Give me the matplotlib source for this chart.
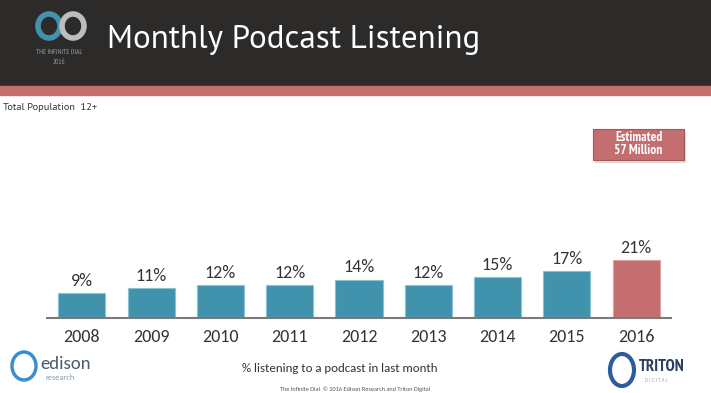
import matplotlib
matplotlib.use("Agg")
import matplotlib.pyplot as plt
from matplotlib.patches import Rectangle, FancyBboxPatch, Ellipse

# data
years = ["2008", "2009", "2010", "2011", "2012", "2013", "2014", "2015", "2016"]
share = [9, 11, 12, 12, 14, 12, 15, 17, 21]
value_labels = ["9%", "11%", "12%", "12%", "14%", "12%", "15%", "17%", "21%"]

BLUE = "#4193ad"
PINK = "#c46e6f"
DARK = "#2d2b2a"
TXT = "#333333"
FONT = ["Carlito", "DejaVu Sans"]
HEAD = ["PT Sans", "DejaVu Sans"]
NARROW = ["PT Sans Narrow", "DejaVu Sans"]

plt.rcParams["font.family"] = FONT

W, H = 711, 393
fig = plt.figure(figsize=(W / 100, H / 100), dpi=100)
fig.patch.set_facecolor("white")

def fx(px):
    return px / W

def fy(py):
    return 1 - py / H

# header band + stripe
fig.patches.append(Rectangle((0, fy(86)), 1, 86 / H, transform=fig.transFigure,
                             color=DARK, zorder=0))
fig.patches.append(Rectangle((0, fy(94.5)), 1, 8.5 / H, transform=fig.transFigure,
                             color=PINK, zorder=0))

fig.text(fx(107), fy(40), "Monthly Podcast Listening", color="white",
         fontsize=23.8, va="center", ha="left", family=HEAD)

# infinite dial logo (rough)
fig.patches.append(Ellipse((fx(49), fy(26)), 22 / W, 24 / H, transform=fig.transFigure,
                           fill=False, ec=BLUE, lw=4, zorder=2))
fig.patches.append(Ellipse((fx(73), fy(26)), 22 / W, 24 / H, transform=fig.transFigure,
                           fill=False, ec="#bdbdbd", lw=4, zorder=2))
fig.text(fx(59), fy(53), "THE INFINITE DIAL", color="#9a9a9a", fontsize=5, ha="center",
         va="center", family=NARROW)
fig.text(fx(59), fy(62), "2016", color="#9a9a9a", fontsize=5, ha="center", va="center",
         family=NARROW)

fig.text(fx(3), fy(108), "Total Population  12+", color=TXT, fontsize=7.5, va="center",
         ha="left", family=HEAD)

# bar chart
ymax = 30
px_per_pct = 2.76
base = 318.3
ax = fig.add_axes([fx(47.3), fy(base), fx(670.7 - 47.3), ymax * px_per_pct / H])
colors = [BLUE] * (len(years) - 1) + [PINK]
edges = ["#8cc3d4"] * (len(years) - 1) + ["#dca0a0"]
x = list(range(len(years)))
bars = ax.bar(x, share, width=0.68, color=colors, edgecolor=edges, linewidth=0.8, zorder=2)
ax.set_xlim(-0.5, len(years) - 0.5)
ax.set_ylim(0, ymax)
for b, lab in zip(bars, value_labels):
    ax.annotate(lab, (b.get_x() + b.get_width() / 2, b.get_height()),
                xytext=(0, 3), textcoords="offset points", ha="center", va="bottom",
                fontsize=13, color=TXT, annotation_clip=False)
ax.set_xticks(x)
ax.set_xticklabels(years, fontsize=13, color=TXT)
ax.tick_params(axis="x", length=0, pad=8)
ax.set_yticks([])
for s in ["top", "right", "left"]:
    ax.spines[s].set_visible(False)
ax.spines["bottom"].set_color("#7a7a7a")
ax.spines["bottom"].set_linewidth(1.5)
ax.patch.set_alpha(0)

# estimate callout
shadow = FancyBboxPatch((fx(595), fy(163)), fx(91), 31 / H, boxstyle="square,pad=0",
                        transform=fig.transFigure, fc="#dcdcdc", ec="none", zorder=1)
fig.patches.append(shadow)
box = FancyBboxPatch((fx(593), fy(160)), fx(91), 31 / H, boxstyle="square,pad=0",
                     transform=fig.transFigure, fc=PINK, ec="#a85556", lw=0.8, zorder=2)
fig.patches.append(box)
fig.text(fx(638.5), fy(144.5), "Estimated\n57 Million", color="white", fontsize=9.5,
         fontweight="bold", ha="center", va="center", linespacing=1.0, zorder=3,
         family=NARROW)

# footer
fig.text(fx(340), fy(369), "% listening to a podcast in last month", color=TXT,
         fontsize=9.3, ha="center", va="center")
fig.text(fx(355), fy(389), "The Infinite Dial  \u00a9 2016 Edison Research and Triton Digital",
         color="#555555", fontsize=4.5, ha="center", va="center")

# edison logo (rough)
fig.patches.append(Ellipse((fx(24), fy(366)), 24 / W, 28 / H, transform=fig.transFigure,
                           fill=False, ec="#3b8fd0", lw=2.5, zorder=2))
fig.text(fx(40), fy(364), "edison", color="#4a5a6a", fontsize=13.5, ha="left", va="center")
fig.text(fx(45), fy(378), "research", color="#8a9aa8", fontsize=6, ha="left", va="center")

# triton logo (rough)
fig.patches.append(Ellipse((fx(622), fy(370)), 24 / W, 32 / H, transform=fig.transFigure,
                           fill=False, ec="#2a5d9a", lw=3, zorder=2))
fig.text(fx(639), fy(367), "TRITON", color="#2b3f63", fontsize=12, fontweight="bold",
         ha="left", va="center", family=NARROW)
fig.text(fx(645), fy(380), "D I G I T A L", color="#9aa8b8", fontsize=3.5, ha="left",
         va="center")

fig.savefig("out.png", dpi=100)
